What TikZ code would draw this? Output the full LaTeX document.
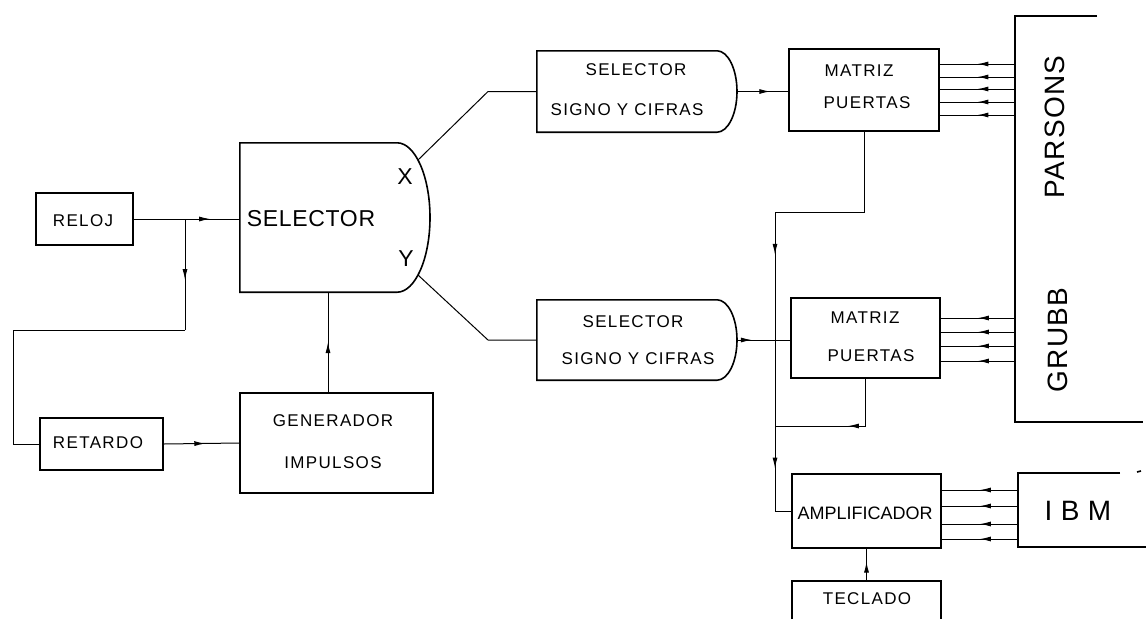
\documentclass[tikz,border=0pt]{standalone}
\usepackage{fontspec}
\setmainfont{Liberation Sans}
\usetikzlibrary{arrows.meta,decorations.markings}
\begin{document}
\begin{tikzpicture}[x=1pt,y=-1pt,
  box/.style={draw, line width=1.6pt, inner sep=0pt, rectangle},
  shell/.style={inner sep=0pt, rectangle},
  dev/.style={line width=1.6pt},
  conn/.style={line width=1pt},
  midarr/.style={postaction={decorate}, decoration={markings, mark=at position #1 with {\arrow{Latex[length=11pt,width=5pt]}}}},
  lbl/.style={font=\fontsize{17}{19}\selectfont\addfontfeature{LetterSpace=8}, inner sep=0pt},
  biglbl/.style={font=\fontsize{23}{25}\selectfont\addfontfeature{LetterSpace=3}, inner sep=0pt},
  devlbl/.style={font=\fontsize{28}{30}\selectfont\addfontfeature{LetterSpace=5}, inner sep=0pt, rotate=90}
]
\useasboundingbox (0,0) rectangle (1146,619);

% ---------- left part ----------
\node[box, minimum width=97pt, minimum height=52pt] (reloj) at (84.5,219) {};
\node[lbl] (relojt) at (83,221) {RELOJ};

\node[box, minimum width=123pt, minimum height=52pt] (retardo) at (101.5,444) {};
\node[lbl] (retardot) at (98,443) {RETARDO};

\node[box, minimum width=193pt, minimum height=100pt] (gen) at (336.5,443) {};
\node[lbl] (gent1) at (333,421) {GENERADOR};
\node[lbl] (gent2) at (333,463) {IMPULSOS};

% main selector
\node[shell, minimum width=157pt, minimum height=149pt] (sel) at (318.5,217.5) {};
\draw[line width=1.6pt] (sel.south east) -- (sel.south west) -- (sel.north west) -- (sel.north east)
  .. controls (415.2,143) and (430,176.4) .. (430,217.5)
  .. controls (430,258.6) and (415.2,292) .. (sel.south east);
\node[biglbl] (selt) at (311,219) {SELECTOR};
\node[biglbl] (selx) at (405,177) {X};
\node[biglbl] (sely) at (406,259) {Y};
\coordinate (selX) at (418,160);
\coordinate (selY) at (418,275);
\coordinate (selS) at (328,292);

% ---------- sign selectors ----------
\node[shell, minimum width=180pt, minimum height=81pt] (ssa) at (627,91.5) {};
\draw[line width=1.6pt] (ssa.south east) -- (ssa.south west) -- (ssa.north west) -- (ssa.north east)
  .. controls (728,51) and (737,69.1) .. (737,91.5)
  .. controls (737,113.9) and (728,132) .. (ssa.south east);
\node[lbl] (ssat1) at (636,70) {SELECTOR};
\node[lbl] (ssat2) at (627,110) {SIGNO Y CIFRAS};
\coordinate (ssaE) at (737,91.5);

\node[shell, minimum width=180pt, minimum height=80pt] (ssb) at (627,340) {};
\draw[line width=1.6pt] (ssb.south east) -- (ssb.south west) -- (ssb.north west) -- (ssb.north east)
  .. controls (728,300) and (737,317.9) .. (737,340)
  .. controls (737,362.1) and (728,380) .. (ssb.south east);
\node[lbl] (ssbt1) at (633,322) {SELECTOR};
\node[lbl] (ssbt2) at (638,359) {SIGNO Y CIFRAS};
\coordinate (ssbE) at (737,340);

\coordinate (ka) at (488,91.5);
\coordinate (kb) at (488,340);

% ---------- matrices ----------
\node[box, minimum width=150pt, minimum height=82pt] (ma) at (864,90) {};
\node[lbl] (mat1) at (859,71) {MATRIZ};
\node[lbl] (mat2) at (867,103) {PUERTAS};

\node[box, minimum width=149pt, minimum height=80pt] (mb) at (865.5,338) {};
\node[lbl] (mbt1) at (865,318) {MATRIZ};
\node[lbl] (mbt2) at (871,356) {PUERTAS};

\node[box, minimum width=149pt, minimum height=74pt] (amp) at (866.5,511) {};
\node[inner sep=0pt, font=\fontsize{18}{20}\selectfont] (ampt) at (865,513) {AMPLIFICADOR};

\node[shell, minimum width=149pt, minimum height=38pt] (tec) at (866.5,600) {};
\draw[line width=1.6pt] (tec.south west) -- (tec.north west) -- (tec.north east) -- (tec.south east);
\node[lbl] (tect) at (867,599) {TECLADO};

% ---------- devices ----------
\coordinate (pars) at (1015,16);
\coordinate (parsB) at (1015,422);
\draw[dev] (1097,16) -- (pars) -- (parsB) -- (1143,422);
\node[devlbl] (parst) at (1055,127) {PARSONS};
\node[devlbl] (grubt) at (1058,340) {GRUBB};

\coordinate (ibm) at (1018,473);
\coordinate (ibmB) at (1018,547);
\draw[dev] (1120,473) -- (ibm) -- (ibmB) -- (1146,547);
\draw[dev] (1137,472) -- (1141,471);
\node[inner sep=0pt, font=\fontsize{28}{30}\selectfont\addfontfeature{LetterSpace=30}] (ibmt) at (1078,511) {IBM};

% ---------- connectors ----------
\coordinate (br) at (185,219);
\coordinate (b1) at (185,330);
\coordinate (b2) at (13,330);
\draw[conn, midarr=0.72] (reloj.east) -- (reloj.east -| sel.west);
\draw[conn, midarr=0.55] (br) -- (b1);
\draw[conn] (b1) -- (b2) -- (b2 |- retardo.west) -- (retardo.west);
\draw[conn, midarr=0.55] (retardo.east) -- (gen.west);
\draw[conn, midarr=0.5] (selS |- gen.north) -- (selS);

\draw[conn] (selX) -- (ka) -- (ssa.west);
\draw[conn] (selY) -- (kb) -- (ssb.west);
\draw[conn, midarr=0.65] (ssaE) -- (ssaE -| ma.west);
\draw[conn, midarr=0.28] (ssbE) -- (ssbE -| mb.west);

\coordinate (c1) at (864,212);
\coordinate (c2) at (775,212);
\coordinate (c3) at (775,426);
\coordinate (c4) at (775,511);
\draw[conn] (ma.south) -- (c1) -- (c2);
\draw[conn, midarr=0.2] (c2) -- (c3);
\draw[conn, midarr=0.5] (c3) -- (c4);
\draw[conn] (c4) -- (amp.west);
\draw[conn, midarr=0.47] (mb.south) -- (mb.south |- c3) -- (c3);
\draw[conn, midarr=0.6] (tec.north) -- (amp.south);

\foreach \yy in {64,77,89,102,115}
  \draw[conn, midarr=0.5] (pars |- 0,\yy) -- (ma.east |- 0,\yy);
\foreach \yy in {318,332,346,361}
  \draw[conn, midarr=0.5] (pars |- 0,\yy) -- (mb.east |- 0,\yy);
\foreach \yy in {490,506,524,539}
  \draw[conn, midarr=0.5] (ibm |- 0,\yy) -- (amp.east |- 0,\yy);
\end{tikzpicture}
\end{document}
